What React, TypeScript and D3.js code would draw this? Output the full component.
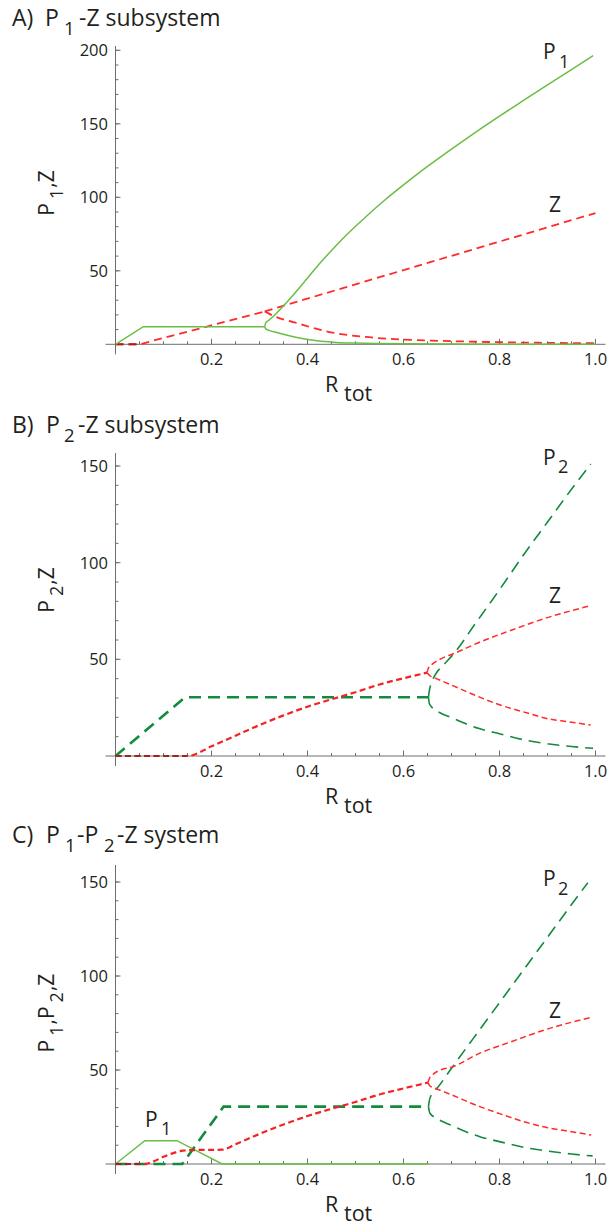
import * as d3 from 'd3'

type Pt = [number, number]

// ---- panel A: P1-Z subsystem ----
const p1A_base: Pt[] = [[0, 0], [0.058, 12], [0.311, 12]]
const p1A_up: Pt[] = [[0.311, 12], [0.313, 14.5], [0.32, 16.5], [0.335, 21], [0.358, 29], [0.396, 43.5], [0.42, 53], [0.45, 63.8], [0.48, 74], [0.52, 86.3], [0.56, 97.8], [0.6, 108.4], [0.65, 121], [0.7, 132.8], [0.75, 144.2], [0.8, 155.2], [0.85, 165.9], [0.9, 176.5], [0.95, 186.9], [0.995, 196.3]]
const p1A_down: Pt[] = [[0.311, 12], [0.313, 10.5], [0.32, 9.5], [0.334, 8.2], [0.36, 6], [0.383, 4.3], [0.42, 2.4], [0.46, 1.3], [0.5, 0.8], [0.6, 0.3], [0.8, 0.1], [1.0, 0.05]]
const zA_base: Pt[] = [[0, 0], [0.05, 0], [0.311, 22.4]]
const zA_up: Pt[] = [[0.311, 22.4], [0.5, 40.8], [0.75, 65], [1.0, 89.3]]
const zA_down: Pt[] = [[0.311, 22.4], [0.33, 19.2], [0.36, 16], [0.3825, 14], [0.41, 11.3], [0.452, 8], [0.521, 5], [0.59, 3.4], [0.66, 2.5], [0.729, 1.9], [0.868, 1.1], [1.0, 0.7]]

// ---- panel B: P2-Z subsystem ----
const p2B_base: Pt[] = [[0, 0], [0.145, 30.4], [0.652, 30.4]]
const p2B_up: Pt[] = [[0.652, 30.4], [0.654, 34], [0.659, 38.5], [0.666, 42], [0.685, 47.5], [0.705, 53], [0.75, 68.6], [0.8, 86], [0.85, 104], [0.9, 121], [0.95, 138], [0.99, 151]]
const p2B_down: Pt[] = [[0.652, 30.4], [0.654, 27], [0.66, 25], [0.676, 22.4], [0.7, 19.8], [0.756, 14.3], [0.8, 11.5], [0.86, 7.9], [0.9, 6.3], [0.95, 4.9], [0.995, 4.0]]
const zB_base: Pt[] = [[0, 0], [0.15, 0], [0.2, 5], [0.25, 10.5], [0.3, 16], [0.35, 21], [0.4, 25.5], [0.466, 30.5], [0.5, 33], [0.55, 37], [0.6, 40.2], [0.649, 43.1]]
const zB_up: Pt[] = [[0.649, 43.1], [0.652, 45.5], [0.66, 47.5], [0.68, 50.5], [0.705, 53], [0.756, 58.6], [0.826, 65.2], [0.895, 71.2], [0.99, 77.8]]
const zB_down: Pt[] = [[0.649, 43.1], [0.655, 41.5], [0.666, 40.3], [0.7, 36.7], [0.756, 30.7], [0.8, 26.5], [0.86, 22.1], [0.9, 19.3], [0.95, 17.5], [0.99, 16]]

// ---- panel C: P1-P2-Z system ----
const p1C_base: Pt[] = [[0, 0], [0.061, 12.4], [0.128, 12.4], [0.222, 0], [0.652, 0]]
const p2C_base: Pt[] = [[0, 0], [0.139, 0], [0.225, 30.5], [0.652, 30.5]]
const p2C_up: Pt[] = [[0.652, 30.5], [0.654, 34], [0.66, 37.5], [0.672, 41], [0.7, 50.9], [0.75, 68.4], [0.8, 85.8], [0.85, 103.2], [0.9, 120.6], [0.95, 138], [0.984, 149.6]]
const p2C_down: Pt[] = [[0.652, 30.5], [0.655, 27], [0.669, 24.3], [0.7, 20.5], [0.759, 14.5], [0.8, 11.9], [0.863, 8.3], [0.9, 6.9], [0.95, 5.3], [0.994, 4.3]]
const zC_base: Pt[] = [[0, 0], [0.059, 0], [0.08, 1.5], [0.1, 3.8], [0.12, 5.8], [0.14, 7.1], [0.16, 7.4], [0.222, 7.6], [0.25, 10.5], [0.3, 16], [0.35, 21], [0.4, 25.5], [0.466, 30.5], [0.5, 33], [0.55, 37], [0.6, 40.2], [0.651, 43.3]]
const zC_up: Pt[] = [[0.651, 43.3], [0.654, 45.5], [0.66, 47.3], [0.68, 50.3], [0.7, 51.5], [0.756, 58.6], [0.826, 65.2], [0.895, 71.4], [0.991, 78]]
const zC_down: Pt[] = [[0.651, 43.3], [0.655, 41.5], [0.666, 40.3], [0.7, 36.8], [0.759, 30.5], [0.8, 26.8], [0.863, 21.6], [0.9, 19.3], [0.95, 17.2], [0.991, 15.4]]

// ticks
const xMajor = [0.2, 0.4, 0.6, 0.8, 1.0]
const xMinor = d3.range(1, 21).map(i => i * 0.05)

const font = '"Open Sans", "DejaVu Sans", sans-serif'
const textColor = '#231f20'
const axisColor = '#6d6e71'

const styles: Record<string, { stroke: string, width: number, dash?: string }> = {
  p1: { stroke: '#6abd45', width: 1.5 },
  p2: { stroke: '#138a3e', width: 1.6, dash: '12,7' },
  p2thick: { stroke: '#138a3e', width: 2.6, dash: '12,7' },
  z: { stroke: '#ff2a2a', width: 1.5, dash: '6,3.5' },
  zthick: { stroke: '#f42323', width: 2.2, dash: '6,3.5' },
  zA: { stroke: '#ff2a2a', width: 1.8, dash: '8,5' },
}

type Series = { data: Pt[], style: string, smooth: boolean }

const panels = [
  {
    key: 'A', yMax: 200, yPx: [344.3, 50.3], axisTop: 46,
    title: { letter: 'A)', base: 26, parts: [['P', 45, 0], ['1', 64, 1], ['-Z subsystem', 79, 0]] },
    ylabel: { cy: 193, parts: [['P', 0], ['1', 1], [',Z', 0]] },
    labels: [['P', 543, 59, 0], ['1', 559, 68, 1], ['Z', 549, 212, 0]],
    series: [
      { data: zA_base, style: 'zA', smooth: false },
      { data: zA_up, style: 'zA', smooth: true },
      { data: zA_down, style: 'zA', smooth: true },
      { data: p1A_base, style: 'p1', smooth: false },
      { data: p1A_up, style: 'p1', smooth: true },
      { data: p1A_down, style: 'p1', smooth: true },
    ] as Series[],
  },
  {
    key: 'B', yMax: 150, yPx: [756, 466], axisTop: 453,
    title: { letter: 'B)', base: 433, parts: [['P', 46, 0], ['2', 64, 1], ['-Z subsystem', 78, 0]] },
    ylabel: { cy: 590, parts: [['P', 0], ['2', 1], [',Z', 0]] },
    labels: [['P', 543, 465, 0], ['2', 558, 473, 1], ['Z', 549, 603, 0]],
    series: [
      { data: p2B_base, style: 'p2thick', smooth: false },
      { data: p2B_up, style: 'p2', smooth: true },
      { data: p2B_down, style: 'p2', smooth: true },
      { data: zB_base, style: 'zthick', smooth: true },
      { data: zB_up, style: 'z', smooth: true },
      { data: zB_down, style: 'z', smooth: true },
    ] as Series[],
  },
  {
    key: 'C', yMax: 150, yPx: [1164, 882], axisTop: 865,
    title: { letter: 'C)', base: 843, parts: [['P', 46, 0], ['1', 65, 1], ['-P', 77, 0], ['2', 104, 1], ['-Z system', 117, 0]] },
    ylabel: { cy: 1013, parts: [['P', 0], ['1', 1], [',P', 0], ['2', 1], [',Z', 0]] },
    labels: [['P', 543, 886, 0], ['2', 558, 895, 1], ['Z', 549, 1018, 0], ['P', 145, 1127, 0], ['1', 161, 1135, 1]],
    series: [
      { data: p1C_base, style: 'p1', smooth: false },
      { data: p2C_base, style: 'p2thick', smooth: false },
      { data: p2C_up, style: 'p2', smooth: true },
      { data: p2C_down, style: 'p2', smooth: true },
      { data: zC_base, style: 'zthick', smooth: true },
      { data: zC_up, style: 'z', smooth: true },
      { data: zC_down, style: 'z', smooth: true },
    ] as Series[],
  },
]

const x = d3.scaleLinear().domain([0, 1]).range([115.5, 595.5])

// leading run of zero values (drawn darker where it sits on the axis)
const zeroRun = (data: Pt[]) => {
  const out: Pt[] = []
  for (const d of data) {
    if (d[1] !== 0) break
    out.push(d)
  }
  return out
}

function Panel({ p }: { p: typeof panels[number] }) {
  const y = d3.scaleLinear().domain([0, p.yMax]).range(p.yPx)
  const x0 = x(0)
  const y0 = y(0)
  const yMinor = d3.range(10, p.yMax + 1, 10)
  const yMajor = d3.range(50, p.yMax + 1, 50)
  const lineLin = d3.line<Pt>().x(d => x(d[0])).y(d => y(d[1]))
  const lineSmooth = d3.line<Pt>().x(d => x(d[0])).y(d => y(d[1])).curve(d3.curveMonotoneX)
  return (
    <g>
      {/* title */}
      <text fontFamily={font} fill={textColor} fontSize={23}>
        <tspan x={12} y={p.title.base}>{p.title.letter}</tspan>
        {p.title.parts.map(([t, px, sub], i) => (
          <tspan key={i} x={px as number} y={p.title.base + (sub ? 9 : 0)} fontSize={sub ? 18.5 : 23}>{t}</tspan>
        ))}
      </text>

      {/* axes */}
      <line x1={x0 - 10} x2={x(1) + 10} y1={y0} y2={y0} stroke={axisColor} strokeWidth={1} />
      <line x1={x0} x2={x0} y1={y0 + 10} y2={p.axisTop} stroke={axisColor} strokeWidth={1} />
      {xMinor.map(v => (
        <line key={'xm' + v} x1={x(v)} x2={x(v)} y1={y0} y2={y0 - 3} stroke={axisColor} />
      ))}
      {xMajor.map(v => (
        <g key={'xM' + v}>
          <line x1={x(v)} x2={x(v)} y1={y0} y2={y0 - 5.5} stroke={axisColor} />
          <text x={x(v)} y={y0 + 21} textAnchor="middle" fontFamily={font} fontSize={16.5} fill={textColor}>{v.toFixed(1)}</text>
        </g>
      ))}
      {yMinor.map(v => (
        <line key={'ym' + v} x1={x0} x2={x0 + 3} y1={y(v)} y2={y(v)} stroke={axisColor} />
      ))}
      {yMajor.map(v => (
        <g key={'yM' + v}>
          <line x1={x0} x2={x0 + 5} y1={y(v)} y2={y(v)} stroke={axisColor} />
          <text x={108} y={y(v)} dy="0.36em" textAnchor="end" fontFamily={font} fontSize={16.5} fill={textColor}>{v}</text>
        </g>
      ))}

      {/* curves */}
      {p.series.map((s, i) => {
        const st = styles[s.style]
        const zr = s.style.startsWith('z') ? zeroRun(s.data) : []
        return (
          <g key={i}>
            <path d={(s.smooth ? lineSmooth : lineLin)(s.data) || ''} fill="none"
              stroke={st.stroke} strokeWidth={st.width} strokeDasharray={st.dash} />
            {zr.length > 1 && (
              <path d={lineLin(zr) || ''} fill="none" stroke="#a3201c" strokeWidth={2} strokeDasharray={st.dash} />
            )}
          </g>
        )
      })}

      {/* x axis label */}
      <text fontFamily={font} fill={textColor}>
        <tspan x={325} y={y0 + 48} fontSize={21.5}>R</tspan>
        <tspan x={344} y={y0 + 57} fontSize={21.5}>tot</tspan>
      </text>

      {/* y axis label */}
      <text transform={`translate(54,${p.ylabel.cy}) rotate(-90)`} textAnchor="middle" fontFamily={font} fontSize={21} fill={textColor}>
        {p.ylabel.parts.map(([t, sub], i) => (
          <tspan key={i} dx={sub ? 4 : (i > 0 ? 1 : 0)} dy={i === 0 ? (sub ? 9 : 0) : (sub ? 9 : (p.ylabel.parts[i - 1][1] ? -9 : 0))} fontSize={sub ? 18 : 21}>{t}</tspan>
        ))}
      </text>

      {/* curve labels */}
      {p.labels.map(([t, lx, ly, sub], i) => (
        <text key={i} x={lx as number} y={ly as number} fontFamily={font} fontSize={sub ? 18 : 21} fill={textColor}>{t}</text>
      ))}
    </g>
  )
}

export default function App() {
  return (
    <svg width={609} height={1230} style={{ position: 'absolute', left: 0, top: 0, background: '#fff' }}>
      {panels.map(p => <Panel key={p.key} p={p} />)}
    </svg>
  )
}
